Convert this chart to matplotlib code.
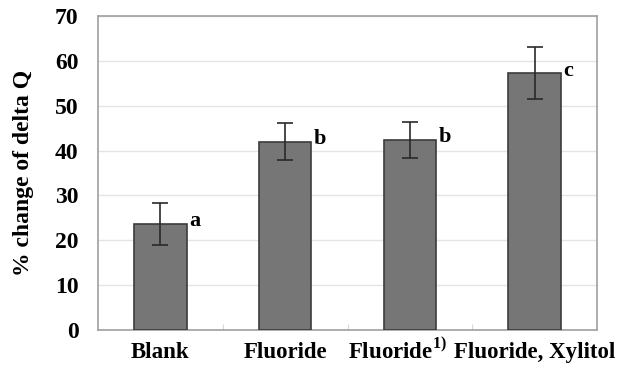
import matplotlib.pyplot as plt
import numpy as np

plt.rcParams["font.family"] = ["Liberation Serif", "DejaVu Serif"]
plt.rcParams["font.weight"] = "bold"
plt.rcParams["mathtext.fontset"] = "custom"
plt.rcParams["mathtext.rm"] = "Liberation Serif:bold"
plt.rcParams["mathtext.bf"] = "Liberation Serif:bold"

# 数据
groups = ["Blank", "Fluoride", r"Fluoride$^{\mathbf{1)}}$", "Fluoride, Xylitol"]
values = [23.6, 42.0, 42.4, 57.2]
errors = [4.7, 4.1, 4.0, 5.8]
letters = ["a", "b", "b", "c"]

fig = plt.figure(figsize=(6.42, 3.69), dpi=100)
ax = fig.add_axes([98 / 642, 1 - 330 / 369, 499 / 642, 314 / 369])

x = np.arange(len(groups))
ax.bar(x, values, width=0.42, color="#767676", edgecolor="#3c3c3c", linewidth=1.2,
       yerr=errors, error_kw=dict(ecolor="#2a2a2a", elinewidth=1.2, capsize=6, capthick=1.2),
       zorder=3)

# 显著性字母
for xi, v, s in zip(x, values, letters):
    ax.annotate(s, (xi + 0.21, v), xytext=(2, 2), textcoords="offset points",
                ha="left", va="center", fontsize=16, fontweight="bold")

# x轴标签（按基线对齐，带上标的标签稍向左移）
shifts = [0, 0, -9, 0]
for xi, g, dx in zip(x, groups, shifts):
    ax.annotate(g, (xi, 0), xycoords=ax.get_xaxis_transform(),
                xytext=(dx, -20), textcoords="offset points",
                ha="center", va="baseline", fontsize=16.5, fontweight="bold")

ax.set_xlim(-0.5, 3.5)
ax.set_ylim(0, 70)
ax.set_yticks(range(0, 71, 10))
ax.set_xticks([0.5, 1.5, 2.5])
ax.set_xticklabels([])
ax.tick_params(axis="x", direction="in", length=4, color="#d8d8d8")
ax.tick_params(axis="y", labelsize=17, length=0, pad=14)
ax.set_ylabel("% change of delta Q", fontsize=17, fontweight="bold", labelpad=15)

ax.grid(axis="y", color="#e4e4e4", linewidth=1, zorder=0)
for sp in ax.spines.values():
    sp.set_color("#a0a0a0")
    sp.set_linewidth(1.2)

fig.savefig("out.png", dpi=100)
